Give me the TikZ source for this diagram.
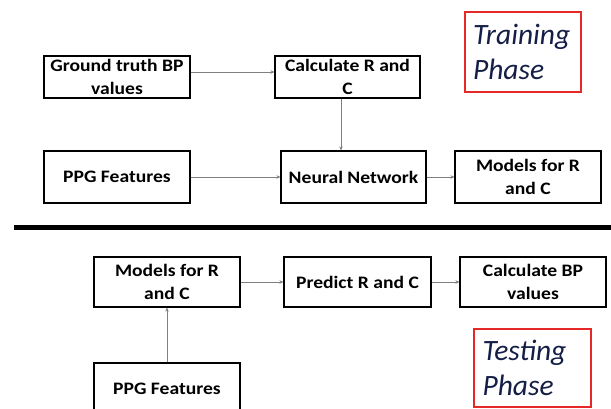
\documentclass[tikz,border=0pt]{standalone}
\usepackage{fontspec}
\setmainfont{Carlito}
\newfontfamily\boxfont[FakeStretch=1.12]{Carlito}
\usetikzlibrary{arrows.meta}
\definecolor{phasered}{RGB}{230,40,40}
\definecolor{phaseblue}{RGB}{20,30,70}
\tikzset{
  box/.style={draw=black, line width=1.1pt, align=center, inner sep=0pt,
    font=\boxfont\fontsize{17.5}{23}\selectfont\bfseries},
  phasebox/.style={draw=phasered, line width=1.1pt, align=left, inner sep=0pt,
    text=phaseblue, font=\fontsize{29.5}{35}\selectfont\itshape},
  link/.style={draw=black!50, line width=0.9pt, -{Stealth[length=4pt,width=3.5pt]}},
  divider/.style={line width=5pt, black}
}
\begin{document}
\begin{tikzpicture}[x=1pt,y=-1pt]
\useasboundingbox (0,0) rectangle (611,408);
% training phase
\node[box, minimum width=146pt, minimum height=42pt] (gt) at (117,77) {Ground truth BP\\values};
\node[box, minimum width=145pt, minimum height=42pt] (calc) at (347.5,77) {Calculate R and\\C};
\node[phasebox, minimum width=116pt, minimum height=80pt, text width=100pt] (train) at (523,52) {Training\\Phase};
\node[box, minimum width=146pt, minimum height=52pt] (ppg1) at (117,177) {PPG Features};
\node[box, minimum width=145pt, minimum height=52pt] (nn) at (353.5,177) {Neural Network};
\node[box, minimum width=146pt, minimum height=52pt] (mod1) at (528,177) {Models for R\\and C};
\draw[link] ([yshift=5pt]gt.east) -- ([yshift=5pt]gt.east -| calc.west);
\draw[link] ([xshift=-6.5pt]calc.south) -- ([xshift=-6.5pt]calc.south |- nn.north);
\draw[link] (ppg1) -- (nn);
\draw[link] (nn) -- (mod1);
% divider
\coordinate (dl) at (14,227);
\coordinate (dr) at (611,227);
\draw[divider] (dl) -- (dr);
% testing phase
\node[box, minimum width=146pt, minimum height=50pt] (mod2) at (167,282) {Models for R\\and C};
\node[box, minimum width=147pt, minimum height=50pt] (pred) at (357.5,282) {Predict R and C};
\node[box, minimum width=146pt, minimum height=50pt] (bp) at (533,282) {Calculate BP\\values};
\node[phasebox, minimum width=117pt, minimum height=78pt, text width=100pt] (test) at (532.5,368) {Testing\\Phase};
\node[box, minimum width=146pt, minimum height=52pt] (ppg2) at (167,389) {PPG Features};
\draw[link] (mod2) -- (pred);
\draw[link] (pred) -- (bp);
\draw[link] (ppg2) -- (mod2);
\end{tikzpicture}
\end{document}
